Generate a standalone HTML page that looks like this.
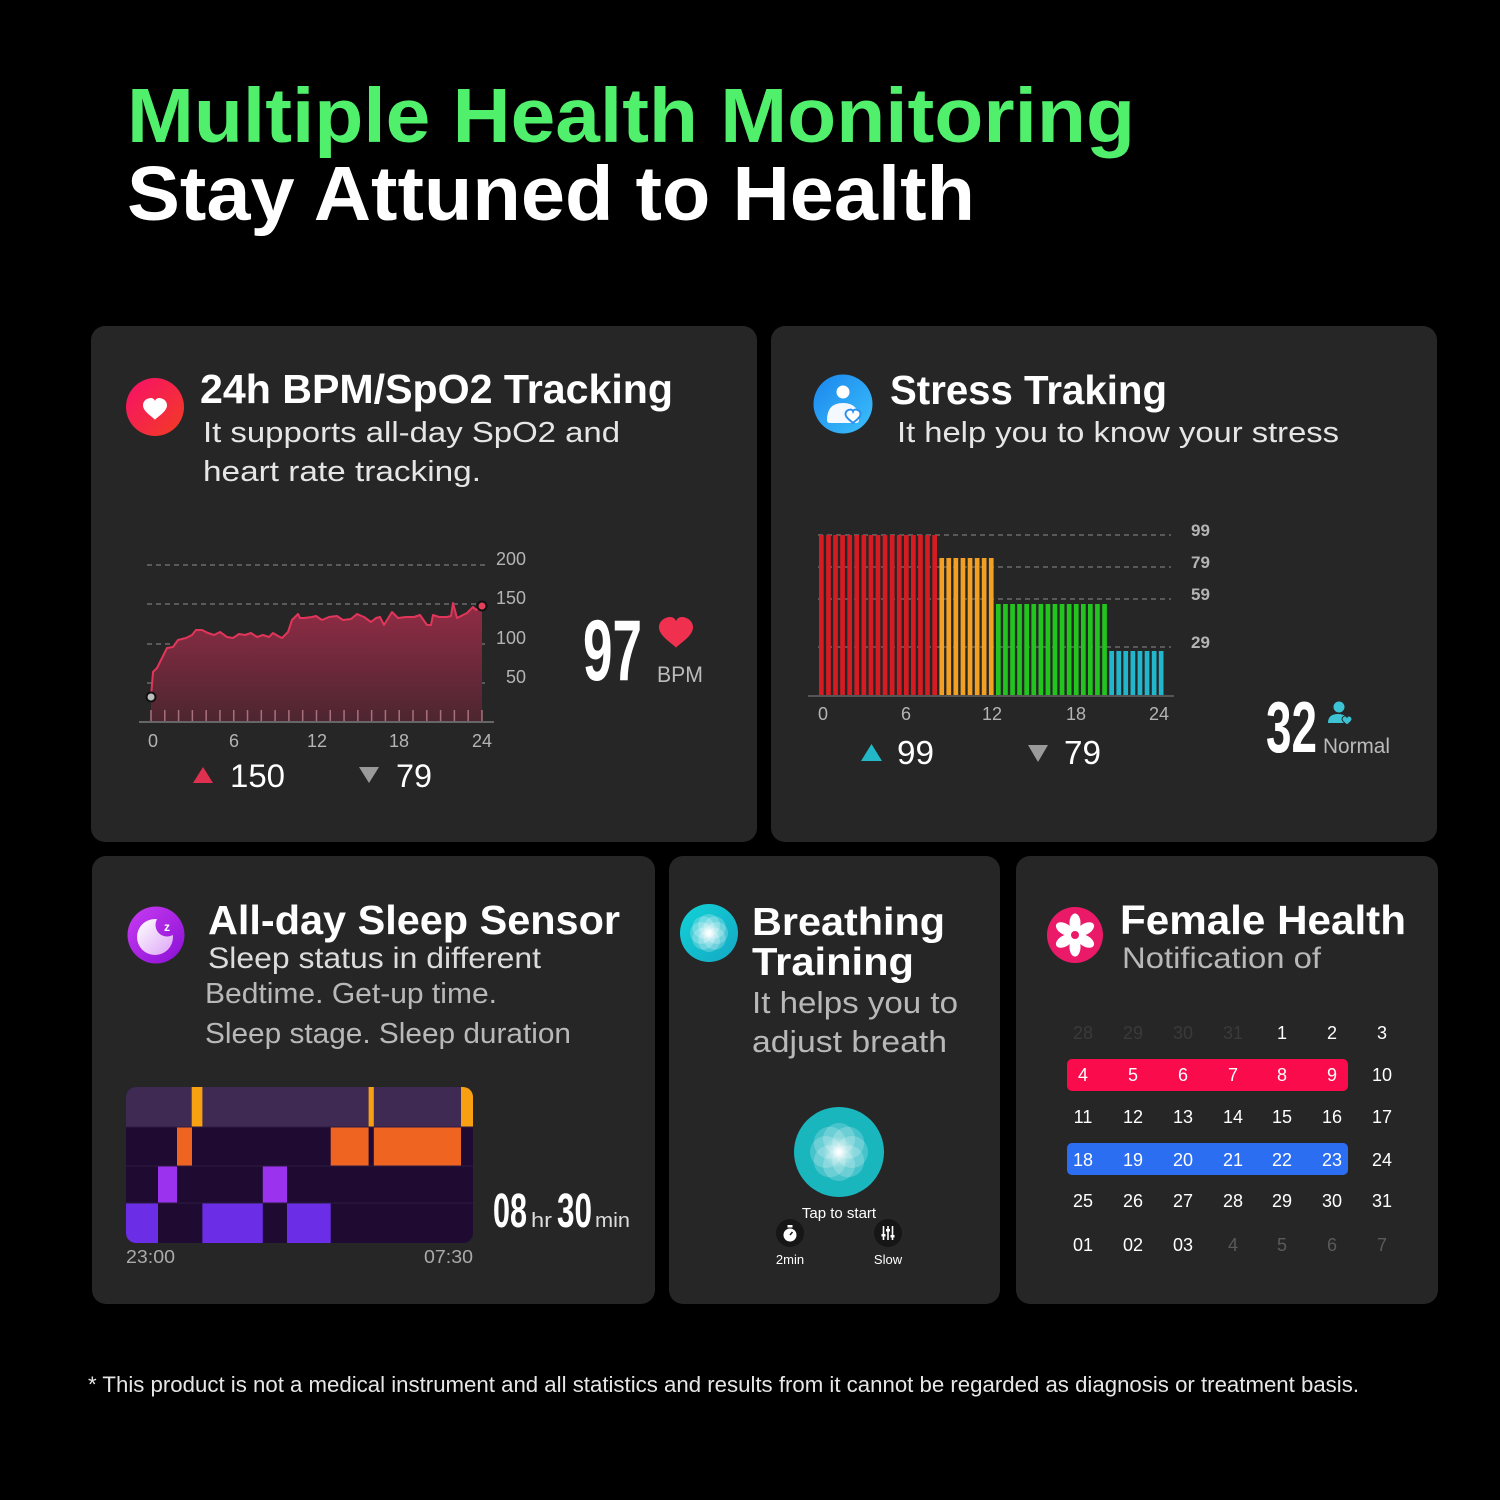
<!DOCTYPE html>
<html>
<head>
<meta charset="utf-8">
<style>
  html,body{margin:0;padding:0;background:#000;}
  svg{display:block;}
  text{font-family:"Liberation Sans","DejaVu Sans",sans-serif;}
</style>
</head>
<body>
<svg width="1500" height="1500" viewBox="0 0 1500 1500" xmlns="http://www.w3.org/2000/svg">
  <defs>
    <linearGradient id="gHeart" x1="0" y1="0" x2="1" y2="1">
      <stop offset="0" stop-color="#f7106a"/>
      <stop offset="1" stop-color="#f23c22"/>
    </linearGradient>
    <linearGradient id="gBlue" x1="0" y1="0" x2="1" y2="1">
      <stop offset="0" stop-color="#1a86ee"/>
      <stop offset="1" stop-color="#3cc0fa"/>
    </linearGradient>
    <linearGradient id="gPurple" x1="0" y1="0" x2="1" y2="1">
      <stop offset="0" stop-color="#c83cf2"/>
      <stop offset="1" stop-color="#8a10d4"/>
    </linearGradient>
    <linearGradient id="gMoon" x1="0" y1="0" x2="1" y2="1">
      <stop offset="0" stop-color="#ffffff"/>
      <stop offset="1" stop-color="#dca4f6"/>
    </linearGradient>
    <linearGradient id="gCyan" x1="0" y1="0" x2="1" y2="1">
      <stop offset="0" stop-color="#12d2d6"/>
      <stop offset="1" stop-color="#14a8c4"/>
    </linearGradient>
    <linearGradient id="gArea" x1="0" y1="0" x2="0" y2="1">
      <stop offset="0" stop-color="#922c46"/>
      <stop offset="1" stop-color="#4c2630"/>
    </linearGradient>
    <radialGradient id="gGlow" cx="0.5" cy="0.5" r="0.5">
      <stop offset="0" stop-color="#ffffff" stop-opacity="0.95"/>
      <stop offset="0.5" stop-color="#ffffff" stop-opacity="0.35"/>
      <stop offset="1" stop-color="#ffffff" stop-opacity="0"/>
    </radialGradient>
    <mask id="moonMask">
      <rect x="120" y="900" width="80" height="80" fill="#fff"/>
      <circle cx="167" cy="925" r="11.5" fill="#000"/>
    </mask>
    <path id="heart" d="M0,8 C-3,5 -10,1 -10,-4 C-10,-8 -6,-10 -3.5,-10 C-1.8,-10 -0.5,-9 0,-7.5 C0.5,-9 1.8,-10 3.5,-10 C6,-10 10,-8 10,-4 C10,1 3,5 0,8 Z"/>
  </defs>

  <rect x="0" y="0" width="1500" height="1500" fill="#000"/>

  <!-- Header -->
  <text x="127" y="142" font-size="77" font-weight="bold" fill="#50f06c" textLength="1008" lengthAdjust="spacingAndGlyphs">Multiple Health Monitoring</text>
  <text x="127" y="220" font-size="77" font-weight="bold" fill="#ffffff" textLength="848" lengthAdjust="spacingAndGlyphs">Stay Attuned to Health</text>

  <!-- Cards -->
  <rect x="91" y="326" width="666" height="516" rx="14" fill="#262626"/>
  <rect x="771" y="326" width="666" height="516" rx="14" fill="#262626"/>
  <rect x="92" y="856" width="563" height="448" rx="14" fill="#262626"/>
  <rect x="669" y="856" width="331" height="448" rx="14" fill="#262626"/>
  <rect x="1016" y="856" width="422" height="448" rx="14" fill="#262626"/>

  <!-- ===== Card 1: BPM ===== -->
  <circle cx="155" cy="407" r="29" fill="url(#gHeart)"/>
  <use href="#heart" transform="translate(155,410) scale(1.2)" fill="#fff"/>
  <text x="200" y="403" font-size="41" font-weight="bold" fill="#fff" textLength="473" lengthAdjust="spacingAndGlyphs">24h BPM/SpO2 Tracking</text>
  <text x="203" y="442" font-size="29" fill="#e6e6e6" textLength="417" lengthAdjust="spacingAndGlyphs">It supports all-day SpO2 and</text>
  <text x="203" y="481" font-size="29" fill="#e6e6e6" textLength="278" lengthAdjust="spacingAndGlyphs">heart rate tracking.</text>

  <g stroke="#6c6c6c" stroke-width="1.5" stroke-dasharray="5 4">
    <line x1="147" y1="565" x2="487" y2="565"/>
    <line x1="147" y1="604" x2="487" y2="604"/>
    <line x1="147" y1="644" x2="487" y2="644"/>
    <line x1="147" y1="683" x2="487" y2="683"/>
  </g>
  <path fill="url(#gArea)" d="M151,722 L151,697 L153,672 L157,668 L162,658 L167,648 L173,647 L178,640 L186,638 L192,635 L196,630 L202,630 L208,633 L214,635 L220,632 L227,637 L233,638 L239,634 L245,635 L251,633 L257,637 L263,635 L269,637 L273,633 L278,636 L282,638 L288,632 L292,620 L298,614 L300,618 L304,618 L312,617 L316,616 L322,620 L329,617 L337,616 L343,620 L351,619 L357,614 L364,617 L371,622 L376,618 L380,617 L384,625 L392,612 L398,618 L406,617 L414,617 L420,615 L427,625 L431,625 L433,615 L439,617 L447,617 L451,616 L453,603 L457,618 L463,615 L467,613 L473,607 L476,610 L482,606 L482,722 Z"/>
  <path fill="none" stroke="#e2355a" stroke-width="2" stroke-linejoin="round" d="M151,697 L153,672 L157,668 L162,658 L167,648 L173,647 L178,640 L186,638 L192,635 L196,630 L202,630 L208,633 L214,635 L220,632 L227,637 L233,638 L239,634 L245,635 L251,633 L257,637 L263,635 L269,637 L273,633 L278,636 L282,638 L288,632 L292,620 L298,614 L300,618 L304,618 L312,617 L316,616 L322,620 L329,617 L337,616 L343,620 L351,619 L357,614 L364,617 L371,622 L376,618 L380,617 L384,625 L392,612 L398,618 L406,617 L414,617 L420,615 L427,625 L431,625 L433,615 L439,617 L447,617 L451,616 L453,603 L457,618 L463,615 L467,613 L473,607 L476,610 L482,606"/>
  <line x1="150.25" y1="716" x2="484" y2="716" stroke="#a8707e" stroke-width="12" stroke-dasharray="1.5 12.29"/>
  <line x1="139" y1="722" x2="494" y2="722" stroke="#666" stroke-width="2"/>
  <circle cx="151" cy="697" r="4.5" fill="#bdbdbd" stroke="#111" stroke-width="2"/>
  <circle cx="482" cy="606" r="4.5" fill="#e4405c" stroke="#111" stroke-width="2"/>
  <g font-size="18" fill="#b4b4b4" text-anchor="end">
    <text x="526" y="565">200</text>
    <text x="526" y="604">150</text>
    <text x="526" y="644">100</text>
    <text x="526" y="683">50</text>
  </g>
  <g font-size="18" fill="#b4b4b4" text-anchor="middle">
    <text x="153" y="747">0</text>
    <text x="234" y="747">6</text>
    <text x="317" y="747">12</text>
    <text x="399" y="747">18</text>
    <text x="482" y="747">24</text>
  </g>
  <polygon points="193,783 213,783 203,767" fill="#e0304f"/>
  <text x="230" y="787" font-size="32" fill="#fff" textLength="55" lengthAdjust="spacingAndGlyphs">150</text>
  <polygon points="359,767 379,767 369,783" fill="#9a9a9a"/>
  <text x="396" y="787" font-size="32" fill="#fff" textLength="36" lengthAdjust="spacingAndGlyphs">79</text>
  <text x="583" y="680" font-size="86" font-weight="bold" fill="#fff" textLength="59" lengthAdjust="spacingAndGlyphs">97</text>
  <use href="#heart" transform="translate(676,634) scale(1.7)" fill="#f0304f"/>
  <text x="657" y="682" font-size="22" fill="#bbbbbb" textLength="46" lengthAdjust="spacingAndGlyphs">BPM</text>

  <!-- ===== Card 2: Stress ===== -->
  <circle cx="843" cy="404" r="29.5" fill="url(#gBlue)"/>
  <circle cx="843" cy="392" r="6.5" fill="#fff"/>
  <path d="M827,420 Q827,403 843,403 Q859,403 859,420 Q859,423 856,423 L830,423 Q827,423 827,420 Z" fill="#f4f8ff"/>
  <use href="#heart" transform="translate(853,417) scale(0.75)" fill="#fff" stroke="#2a90ee" stroke-width="2.5"/>
  <text x="890" y="404" font-size="41" font-weight="bold" fill="#fff" textLength="277" lengthAdjust="spacingAndGlyphs">Stress Traking</text>
  <text x="897" y="442" font-size="29" fill="#e6e6e6" textLength="442" lengthAdjust="spacingAndGlyphs">It help you to know your stress</text>

  <g stroke="#6a6a6a" stroke-width="1.5" stroke-dasharray="5 4">
    <line x1="818" y1="535" x2="1171" y2="535"/>
    <line x1="818" y1="567" x2="1171" y2="567"/>
    <line x1="818" y1="599" x2="1171" y2="599"/>
    <line x1="818" y1="647" x2="1171" y2="647"/>
  </g>
  <g fill="#d41c22">
    <rect x="819.0" y="535" width="4.7" height="160"/>
    <rect x="826.1" y="535" width="4.7" height="160"/>
    <rect x="833.2" y="535" width="4.7" height="160"/>
    <rect x="840.2" y="535" width="4.7" height="160"/>
    <rect x="847.3" y="535" width="4.7" height="160"/>
    <rect x="854.4" y="535" width="4.7" height="160"/>
    <rect x="861.5" y="535" width="4.7" height="160"/>
    <rect x="868.6" y="535" width="4.7" height="160"/>
    <rect x="875.6" y="535" width="4.7" height="160"/>
    <rect x="882.7" y="535" width="4.7" height="160"/>
    <rect x="889.8" y="535" width="4.7" height="160"/>
    <rect x="896.9" y="535" width="4.7" height="160"/>
    <rect x="904.0" y="535" width="4.7" height="160"/>
    <rect x="911.0" y="535" width="4.7" height="160"/>
    <rect x="918.1" y="535" width="4.7" height="160"/>
    <rect x="925.2" y="535" width="4.7" height="160"/>
    <rect x="932.3" y="535" width="4.7" height="160"/>
  </g>
  <g fill="#f2a024">
    <rect x="939.4" y="558" width="4.7" height="137"/>
    <rect x="946.4" y="558" width="4.7" height="137"/>
    <rect x="953.5" y="558" width="4.7" height="137"/>
    <rect x="960.6" y="558" width="4.7" height="137"/>
    <rect x="967.7" y="558" width="4.7" height="137"/>
    <rect x="974.8" y="558" width="4.7" height="137"/>
    <rect x="981.8" y="558" width="4.7" height="137"/>
    <rect x="988.9" y="558" width="4.7" height="137"/>
  </g>
  <g fill="#22c41e">
    <rect x="996.0" y="604" width="4.7" height="91"/>
    <rect x="1003.1" y="604" width="4.7" height="91"/>
    <rect x="1010.2" y="604" width="4.7" height="91"/>
    <rect x="1017.2" y="604" width="4.7" height="91"/>
    <rect x="1024.3" y="604" width="4.7" height="91"/>
    <rect x="1031.4" y="604" width="4.7" height="91"/>
    <rect x="1038.5" y="604" width="4.7" height="91"/>
    <rect x="1045.6" y="604" width="4.7" height="91"/>
    <rect x="1052.6" y="604" width="4.7" height="91"/>
    <rect x="1059.7" y="604" width="4.7" height="91"/>
    <rect x="1066.8" y="604" width="4.7" height="91"/>
    <rect x="1073.9" y="604" width="4.7" height="91"/>
    <rect x="1081.0" y="604" width="4.7" height="91"/>
    <rect x="1088.0" y="604" width="4.7" height="91"/>
    <rect x="1095.1" y="604" width="4.7" height="91"/>
    <rect x="1102.2" y="604" width="4.7" height="91"/>
  </g>
  <g fill="#22b6cc">
    <rect x="1109.3" y="651" width="4.7" height="44"/>
    <rect x="1116.4" y="651" width="4.7" height="44"/>
    <rect x="1123.4" y="651" width="4.7" height="44"/>
    <rect x="1130.5" y="651" width="4.7" height="44"/>
    <rect x="1137.6" y="651" width="4.7" height="44"/>
    <rect x="1144.7" y="651" width="4.7" height="44"/>
    <rect x="1151.8" y="651" width="4.7" height="44"/>
    <rect x="1158.8" y="651" width="4.7" height="44"/>
  </g>
  <line x1="808" y1="696" x2="1174" y2="696" stroke="#555" stroke-width="2"/>
  <g font-size="17" font-weight="bold" fill="#b4b4b4">
    <text x="1191" y="536">99</text>
    <text x="1191" y="568">79</text>
    <text x="1191" y="600">59</text>
    <text x="1191" y="648">29</text>
  </g>
  <g font-size="18" fill="#b4b4b4" text-anchor="middle">
    <text x="823" y="720">0</text>
    <text x="906" y="720">6</text>
    <text x="992" y="720">12</text>
    <text x="1076" y="720">18</text>
    <text x="1159" y="720">24</text>
  </g>
  <polygon points="861,761 882,761 871.5,744" fill="#22b8c8"/>
  <text x="897" y="764" font-size="33" fill="#fff" textLength="37" lengthAdjust="spacingAndGlyphs">99</text>
  <polygon points="1028,745 1048,745 1038,762" fill="#9a9a9a"/>
  <text x="1064" y="764" font-size="33" fill="#fff" textLength="37" lengthAdjust="spacingAndGlyphs">79</text>
  <text x="1266" y="752" font-size="72" font-weight="bold" fill="#fff" textLength="51" lengthAdjust="spacingAndGlyphs">32</text>
  <circle cx="1339" cy="707" r="5.5" fill="#3cc4d4"/>
  <path d="M1328,723 Q1328,714 1338,714 Q1348,714 1348,723 Z" fill="#3cc4d4"/>
  <use href="#heart" transform="translate(1347,721) scale(0.5)" fill="#3cc4d4" stroke="#262626" stroke-width="2"/>
  <text x="1323" y="753" font-size="21" fill="#bbbbbb" textLength="67" lengthAdjust="spacingAndGlyphs">Normal</text>

  <!-- ===== Card 3: Sleep ===== -->
  <circle cx="156" cy="935" r="28.5" fill="url(#gPurple)"/>
  <circle cx="155" cy="937" r="18" fill="url(#gMoon)" mask="url(#moonMask)"/>
  <text x="167" y="931" font-size="12" font-weight="bold" fill="#fff" text-anchor="middle">z</text>
  <text x="208" y="934" font-size="41" font-weight="bold" fill="#fff" textLength="412" lengthAdjust="spacingAndGlyphs">All-day Sleep Sensor</text>
  <text x="208" y="968" font-size="30" fill="#dcdcdc" textLength="333" lengthAdjust="spacingAndGlyphs">Sleep status in different</text>
  <text x="205" y="1003" font-size="29" fill="#b8b8b8" textLength="292" lengthAdjust="spacingAndGlyphs">Bedtime. Get-up time.</text>
  <text x="205" y="1043" font-size="29" fill="#b8b8b8" textLength="366" lengthAdjust="spacingAndGlyphs">Sleep stage. Sleep duration</text>

  <defs>
    <clipPath id="sleepClip"><rect x="126" y="1087" width="347" height="156" rx="10"/></clipPath>
  </defs>
  <g clip-path="url(#sleepClip)">
    <rect x="126" y="1087" width="347" height="156" fill="#1f0a32"/>
    <rect x="126" y="1087" width="347" height="40" fill="#3e2a52"/>
    <rect x="191.7" y="1087" width="10.7" height="40" fill="#f6a012"/>
    <rect x="368.6" y="1087" width="5.2" height="40" fill="#f6a012"/>
    <rect x="461" y="1087" width="12" height="40" fill="#f6a012"/>
    <rect x="177" y="1127" width="15" height="39" fill="#f06422"/>
    <rect x="330.7" y="1127" width="37.9" height="39" fill="#f06422"/>
    <rect x="373.8" y="1127" width="87.2" height="39" fill="#f06422"/>
    <rect x="158" y="1166" width="19" height="37" fill="#9a32ee"/>
    <rect x="262.8" y="1166" width="24.2" height="37" fill="#9a32ee"/>
    <rect x="126" y="1203" width="32" height="40" fill="#6b2ee6"/>
    <rect x="202.4" y="1203" width="60.4" height="40" fill="#6b2ee6"/>
    <rect x="287" y="1203" width="43.7" height="40" fill="#6b2ee6"/>
    <line x1="126" y1="1127" x2="473" y2="1127" stroke="#2e1c42" stroke-width="1"/>
    <line x1="126" y1="1166" x2="473" y2="1166" stroke="#2e1c42" stroke-width="1"/>
    <line x1="126" y1="1203" x2="473" y2="1203" stroke="#2e1c42" stroke-width="1"/>
  </g>
  <text x="126" y="1263" font-size="18" fill="#aaaaaa" textLength="49" lengthAdjust="spacingAndGlyphs">23:00</text>
  <text x="424" y="1263" font-size="18" fill="#aaaaaa" textLength="49" lengthAdjust="spacingAndGlyphs">07:30</text>
  <text x="493" y="1227" font-size="48" font-weight="bold" fill="#fff" textLength="34" lengthAdjust="spacingAndGlyphs">08</text>
  <text x="531" y="1227" font-size="20" fill="#dddddd" textLength="21" lengthAdjust="spacingAndGlyphs">hr</text>
  <text x="557" y="1227" font-size="48" font-weight="bold" fill="#fff" textLength="35" lengthAdjust="spacingAndGlyphs">30</text>
  <text x="595" y="1227" font-size="20" fill="#dddddd" textLength="35" lengthAdjust="spacingAndGlyphs">min</text>

  <!-- ===== Card 4: Breathing ===== -->
  <circle cx="709" cy="933" r="29" fill="url(#gCyan)"/>
  <g fill="#ffffff" fill-opacity="0.22">
    <circle cx="709" cy="925" r="11"/>
    <circle cx="717" cy="933" r="11"/>
    <circle cx="709" cy="941" r="11"/>
    <circle cx="701" cy="933" r="11"/>
    <circle cx="714.7" cy="927.3" r="11"/>
    <circle cx="714.7" cy="938.7" r="11"/>
    <circle cx="703.3" cy="938.7" r="11"/>
    <circle cx="703.3" cy="927.3" r="11"/>
  </g>
  <circle cx="709" cy="933" r="12" fill="url(#gGlow)"/>
  <text x="752" y="935" font-size="39" font-weight="bold" fill="#fff" textLength="193" lengthAdjust="spacingAndGlyphs">Breathing</text>
  <text x="752" y="975" font-size="39" font-weight="bold" fill="#fff" textLength="162" lengthAdjust="spacingAndGlyphs">Training</text>
  <text x="752" y="1013" font-size="31" fill="#b8b8b8" textLength="206" lengthAdjust="spacingAndGlyphs">It helps you to</text>
  <text x="752" y="1052" font-size="31" fill="#b8b8b8" textLength="195" lengthAdjust="spacingAndGlyphs">adjust breath</text>

  <circle cx="839" cy="1152" r="45" fill="#1ab6be"/>
  <g fill="#ffffff" fill-opacity="0.2">
    <circle cx="839" cy="1139" r="16"/>
    <circle cx="848.2" cy="1142.8" r="16"/>
    <circle cx="852" cy="1152" r="16"/>
    <circle cx="848.2" cy="1161.2" r="16"/>
    <circle cx="839" cy="1165" r="16"/>
    <circle cx="829.8" cy="1161.2" r="16"/>
    <circle cx="826" cy="1152" r="16"/>
    <circle cx="829.8" cy="1142.8" r="16"/>
  </g>
  <circle cx="839" cy="1152" r="16" fill="url(#gGlow)"/>
  <text x="839" y="1218" font-size="15" fill="#ffffff" text-anchor="middle">Tap to start</text>
  <circle cx="790" cy="1233" r="14" fill="#161616"/>
  <circle cx="790" cy="1235" r="6.5" fill="#fff"/>
  <rect x="787.5" y="1225" width="5" height="2.5" fill="#fff"/>
  <line x1="790" y1="1235" x2="792.5" y2="1232" stroke="#161616" stroke-width="1.5"/>
  <circle cx="888" cy="1233" r="14" fill="#161616"/>
  <g stroke="#fff" stroke-width="1.6">
    <line x1="883.5" y1="1226" x2="883.5" y2="1240"/>
    <line x1="888" y1="1226" x2="888" y2="1240"/>
    <line x1="892.5" y1="1226" x2="892.5" y2="1240"/>
  </g>
  <g fill="#fff">
    <rect x="881.5" y="1234" width="4" height="2.5"/>
    <rect x="886" y="1229" width="4" height="2.5"/>
    <rect x="890.5" y="1235" width="4" height="2.5"/>
  </g>
  <text x="790" y="1264" font-size="13" fill="#ffffff" text-anchor="middle">2min</text>
  <text x="888" y="1264" font-size="13" fill="#ffffff" text-anchor="middle">Slow</text>

  <!-- ===== Card 5: Female Health ===== -->
  <circle cx="1075" cy="935" r="28" fill="#ea1a68"/>
  <g fill="#fff">
    <ellipse cx="1075" cy="923" rx="5.5" ry="9.5" transform="rotate(0 1075 935)"/>
    <ellipse cx="1075" cy="923" rx="5.5" ry="9.5" transform="rotate(60 1075 935)"/>
    <ellipse cx="1075" cy="923" rx="5.5" ry="9.5" transform="rotate(120 1075 935)"/>
    <ellipse cx="1075" cy="923" rx="5.5" ry="9.5" transform="rotate(180 1075 935)"/>
    <ellipse cx="1075" cy="923" rx="5.5" ry="9.5" transform="rotate(240 1075 935)"/>
    <ellipse cx="1075" cy="923" rx="5.5" ry="9.5" transform="rotate(300 1075 935)"/>
  </g>
  <circle cx="1075" cy="935" r="4" fill="#ea1a68"/>
  <text x="1120" y="934" font-size="41" font-weight="bold" fill="#fff" textLength="286" lengthAdjust="spacingAndGlyphs">Female Health</text>
  <text x="1122" y="968" font-size="30" fill="#b8b8b8" textLength="199" lengthAdjust="spacingAndGlyphs">Notification of</text>

  <rect x="1067" y="1059" width="281" height="32" rx="5" fill="#f90b4c"/>
  <rect x="1067" y="1143" width="281" height="32" rx="5" fill="#2b6ef2"/>
  <g font-size="18" text-anchor="middle" fill="#fff">
    <g fill="#3a3a3a">
      <text x="1083" y="1039">28</text>
      <text x="1133" y="1039">29</text>
      <text x="1183" y="1039">30</text>
      <text x="1233" y="1039">31</text>
    </g>
    <text x="1282" y="1039">1</text>
    <text x="1332" y="1039">2</text>
    <text x="1382" y="1039">3</text>

    <text x="1083" y="1081">4</text>
    <text x="1133" y="1081">5</text>
    <text x="1183" y="1081">6</text>
    <text x="1233" y="1081">7</text>
    <text x="1282" y="1081">8</text>
    <text x="1332" y="1081">9</text>
    <text x="1382" y="1081">10</text>

    <text x="1083" y="1123">11</text>
    <text x="1133" y="1123">12</text>
    <text x="1183" y="1123">13</text>
    <text x="1233" y="1123">14</text>
    <text x="1282" y="1123">15</text>
    <text x="1332" y="1123">16</text>
    <text x="1382" y="1123">17</text>

    <text x="1083" y="1166">18</text>
    <text x="1133" y="1166">19</text>
    <text x="1183" y="1166">20</text>
    <text x="1233" y="1166">21</text>
    <text x="1282" y="1166">22</text>
    <text x="1332" y="1166">23</text>
    <text x="1382" y="1166">24</text>

    <text x="1083" y="1207">25</text>
    <text x="1133" y="1207">26</text>
    <text x="1183" y="1207">27</text>
    <text x="1233" y="1207">28</text>
    <text x="1282" y="1207">29</text>
    <text x="1332" y="1207">30</text>
    <text x="1382" y="1207">31</text>

    <text x="1083" y="1251">01</text>
    <text x="1133" y="1251">02</text>
    <text x="1183" y="1251">03</text>
    <g fill="#5a5a5a">
      <text x="1233" y="1251">4</text>
      <text x="1282" y="1251">5</text>
      <text x="1332" y="1251">6</text>
      <text x="1382" y="1251">7</text>
    </g>
  </g>

  <!-- Footer -->
  <text x="88" y="1392" font-size="22" fill="#e6e6e6" textLength="1271" lengthAdjust="spacingAndGlyphs">* This product is not a medical instrument and all statistics and results from it cannot be regarded as diagnosis or treatment basis.</text>
</svg>
</body>
</html>
